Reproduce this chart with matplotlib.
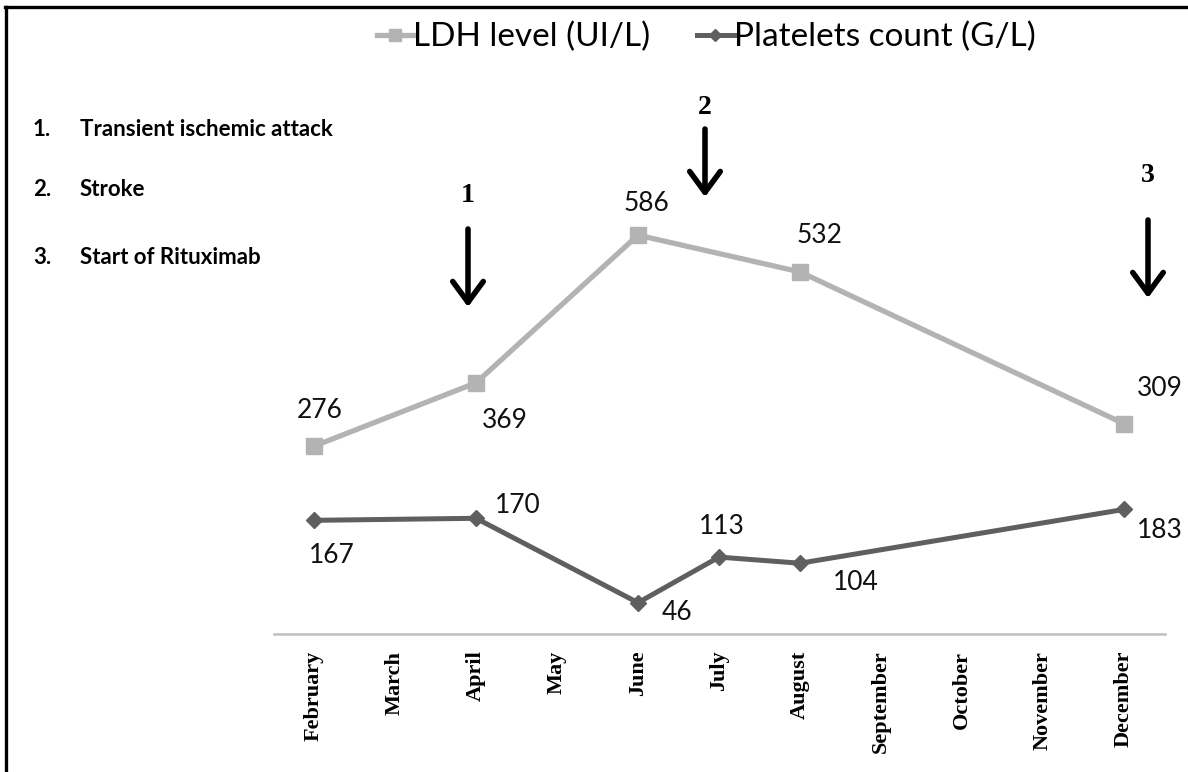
import matplotlib
matplotlib.use("Agg")
import matplotlib.pyplot as plt
from matplotlib.patches import FancyArrowPatch
from matplotlib.lines import Line2D

months = ["February", "March", "April", "May", "June", "July", "August",
          "September", "October", "November", "December"]
ldh_months = ["February", "April", "June", "August", "December"]
ldh_values = [276, 369, 586, 532, 309]
plt_months = ["February", "April", "June", "July", "August", "December"]
plt_values = [167, 170, 46, 113, 104, 183]
ldh_label_offsets = [(4, 26), (21, -27), (6, 23), (14, 26), (26, 25)]
plt_label_offsets = [(13, -25), (30, 9), (28, -7), (2, 22), (40, -14), (26, -15)]
events = ["Transient ischemic attack", "Stroke", "Start of Rituximab"]

W, H = 1188, 772
fig = plt.figure(figsize=(W / 100, H / 100), dpi=100)

def fx(px):
    return px / W

def fy(py):
    return 1 - py / H

ax = fig.add_axes([fx(273.5), fy(634), fx(1164.5) - fx(273.5), (634 - 89.5) / H])
xi = {m: i for i, m in enumerate(months)}
ldh_color = "#b3b3b3"
plt_color = "#5f5f5f"
label_font = "Lato"

lx = [xi[m] for m in ldh_months]
px_ = [xi[m] for m in plt_months]
l1, = ax.plot(lx, ldh_values, color=ldh_color, lw=3.8, marker="s", ms=12,
              solid_joinstyle="round", label="LDH level (UI/L)")
l2, = ax.plot(px_, plt_values, color=plt_color, lw=3.6, marker="D", ms=8.5,
              solid_joinstyle="round", label="Platelets count (G/L)")

for x, v, off in zip(lx, ldh_values, ldh_label_offsets):
    ax.annotate(str(v), (x, v), xytext=off, textcoords="offset points",
                ha="center", va="center", fontsize=19, family=label_font, color="#111111")
for x, v, off in zip(px_, plt_values, plt_label_offsets):
    ax.annotate(str(v), (x, v), xytext=off, textcoords="offset points",
                ha="center", va="center", fontsize=19, family=label_font, color="#111111")

ax.set_xlim(-0.5, len(months) - 0.5)
ax.set_ylim(0, 800)
ax.set_xticks(range(len(months)))
ax.set_xticklabels(months, rotation=90, fontsize=16, fontweight="bold",
                   family="Liberation Serif", va="top")
ax.tick_params(axis="x", length=0, pad=12)
ax.set_yticks([])
for s in ["top", "right", "left"]:
    ax.spines[s].set_visible(False)
ax.spines["bottom"].set_color("#c0c0c0")
ax.spines["bottom"].set_linewidth(1.8)

fig.legend(handles=[l1, l2], loc="center", bbox_to_anchor=(fx(706), fy(37)),
           ncol=2, frameon=False, prop={"family": label_font, "size": 24},
           handlelength=1.1, handletextpad=0.0, columnspacing=1.4,
           markerscale=0.75)

# event list
ys = [130, 190, 257]
for i, (t, y) in enumerate(zip(events, ys)):
    fig.text(fx(33), fy(y), f"{i+1}.", fontsize=16, fontweight="bold",
             family=label_font, va="center", ha="left")
    fig.text(fx(80), fy(y), t, fontsize=16, fontweight="bold",
             family=label_font, va="center", ha="left")

# arrows with numbers
arrows = [("1", 468, 196, 229, 307), ("2", 705, 107, 129, 197), ("3", 1148, 176, 220, 298)]
for num, x, ny, y0, y1 in arrows:
    fig.text(fx(x), fy(ny), num, fontsize=20, fontweight="bold",
             family="Liberation Serif", ha="center", va="center")
    arr = FancyArrowPatch((fx(x), fy(y0)), (fx(x), fy(y1)), transform=fig.transFigure,
                          arrowstyle="->,head_length=15,head_width=11", lw=4,
                          color="black", mutation_scale=1, shrinkA=0, shrinkB=0)
    fig.patches.append(arr)

# border (top and left)
fig.add_artist(Line2D([fx(5), 1], [fy(7), fy(7)], transform=fig.transFigure,
                      color="black", lw=2.4))
fig.add_artist(Line2D([fx(6), fx(6)], [0, fy(7)], transform=fig.transFigure,
                      color="black", lw=2.4))

fig.savefig("out.png", dpi=100)
